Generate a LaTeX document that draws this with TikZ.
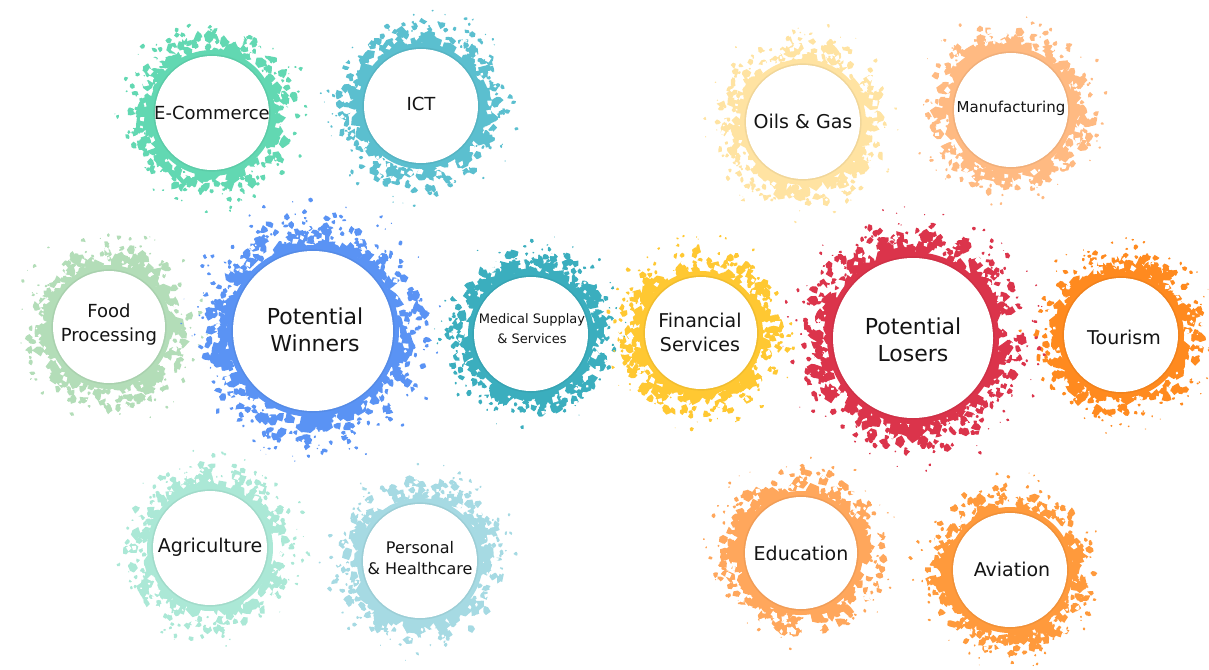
\documentclass[tikz,border=0pt]{standalone}
\usepackage{fontspec}
\setmainfont{DejaVu Sans}

\definecolor{cEcom}{HTML}{62D8B2}
\definecolor{cICT}{HTML}{5BBFCF}
\definecolor{cFood}{HTML}{B3DDB8}
\definecolor{cWin}{HTML}{5A93F4}
\definecolor{cMed}{HTML}{3BAEBE}
\definecolor{cAgri}{HTML}{ABE8D6}
\definecolor{cPers}{HTML}{A6DAE3}
\definecolor{cOil}{HTML}{FFE3A2}
\definecolor{cManu}{HTML}{FFBA82}
\definecolor{cFin}{HTML}{FFC832}
\definecolor{cLos}{HTML}{DB344B}
\definecolor{cTour}{HTML}{FF8A1F}
\definecolor{cEdu}{HTML}{FFA75C}
\definecolor{cAvi}{HTML}{FF9A3C}

% one pass of irregular hexagonal specks around the origin
% #1 inner radius, #2 band width, #3 count, #4 base size, #5 size spread, #6 exponent
\newcommand\speckpass[6]{%
  foreach \k in {1,...,#3}{
    \pgfextra{%
      \pgfmathsetmacro\ang{360*rnd}%
      \pgfmathsetmacro\spt{rnd^#6}%
      \pgfmathsetmacro\dd{#1+#2*\spt}%
      \pgfmathsetmacro\ra{(#4+#5*rnd^1.3)*(1-0.6*\spt)}%
      \pgfmathsetmacro\rot{360*rnd}}
    (\ang:\dd) +(\rot:\ra)
      -- +(\rot+60:{\ra*(0.4+0.7*rnd)})
      -- +(\rot+120:{\ra*(0.4+0.7*rnd)})
      -- +(\rot+180:{\ra*(0.4+0.7*rnd)})
      -- +(\rot+240:{\ra*(0.4+0.7*rnd)})
      -- +(\rot+300:{\ra*(0.4+0.7*rnd)}) -- cycle}}

% splattered ring: #1 x, #2 y, #3 inner radius, #4 colour, #5 spread, #6 blob count
\newcommand\splatring[6]{%
  \begin{scope}[shift={(#1,#2)}]
    \pgfmathtruncatemacro\outercount{0.6*#6}%
    \fill[#4] (0,0) circle[radius=#3+6];
    % dense blotches close to the disc
    \fill[#4] \speckpass{#3+4}{0.68*#5}{#6}{3.4}{8}{1.25};
    % sparse specks further out
    \fill[#4] \speckpass{#3+8}{#5}{\outercount}{1.2}{4.8}{1.5};
    % small gaps in the blotches
    \fill[white] foreach \k in {1,...,70}{
      \pgfextra{%
        \pgfmathsetmacro\ang{360*rnd}%
        \pgfmathsetmacro\dd{#3+9+16*rnd}%
        \pgfmathsetmacro\ra{1+3.2*rnd}%
        \pgfmathsetmacro\rot{360*rnd}}
      (\ang:\dd) +(\rot:\ra)
        -- +(\rot+90:{\ra*(0.5+0.6*rnd)})
        -- +(\rot+180:{\ra*(0.5+0.6*rnd)})
        -- +(\rot+270:{\ra*(0.5+0.6*rnd)}) -- cycle
    };
    \fill[#4!70!black,opacity=.18] (0,0) circle[radius=#3+1.6];
    \fill[white] (0,0) circle[radius=#3];
  \end{scope}}

\begin{document}
\begin{tikzpicture}[x=1pt,y=-1pt,
  lbl/.style={align=center,text=black!92,inner sep=0pt},
  big/.style={lbl,font=\fontsize{22}{27}\selectfont},
  mid/.style={lbl,font=\fontsize{19}{24}\selectfont},
  sml/.style={lbl,font=\fontsize{13}{20}\selectfont}]
\useasboundingbox (0,0) rectangle (1209,669);
\pgfmathsetseed{4711}

% winners side
\splatring{212}{113}{57}{cEcom}{36}{190}
\splatring{421}{106}{57}{cICT}{36}{190}
\splatring{109}{327}{56}{cFood}{36}{190}
\splatring{210}{548}{57}{cAgri}{36}{190}
\splatring{420}{561}{57}{cPers}{36}{190}
\splatring{313}{331}{80}{cWin}{46}{290}
\splatring{531}{334}{57}{cMed}{36}{190}

% losers side
\splatring{803}{122}{57}{cOil}{36}{190}
\splatring{1011}{110}{57}{cManu}{36}{190}
\splatring{701}{333}{56}{cFin}{36}{190}
\splatring{1121}{335}{57}{cTour}{36}{190}
\splatring{801}{553}{56}{cEdu}{36}{190}
\splatring{1010}{570}{57}{cAvi}{36}{190}
\splatring{913}{338}{80}{cLos}{46}{290}

\node[mid,font=\fontsize{18}{22}\selectfont] (ecom) at (212,113) {E-Commerce};
\node[mid,font=\fontsize{18}{22}\selectfont] (ict) at (421,104) {ICT};
\node[mid,font=\fontsize{18}{24}\selectfont] (food) at (109,325) {Food\\Processing};
\node[mid] (agri) at (210,547) {Agriculture};
\node[lbl,font=\fontsize{16}{21}\selectfont] (pers) at (420,558) {Personal\\\& Healthcare};
\node[big] (win) at (315,330) {Potential\\Winners};
\node[sml] (med) at (532,329) {Medical Supplay\\\& Services};

\node[mid] (oil) at (803,121) {Oils \& Gas};
\node[lbl,font=\fontsize{15}{20}\selectfont] (manu) at (1011,108) {Manufacturing};
\node[mid] (fin) at (700,332) {Financial\\Services};
\node[mid] (tour) at (1124,337) {Tourism};
\node[mid] (edu) at (801,553) {Education};
\node[mid] (avi) at (1012,569) {Aviation};
\node[big] (los) at (913,340) {Potential\\Losers};
\end{tikzpicture}
\end{document}
